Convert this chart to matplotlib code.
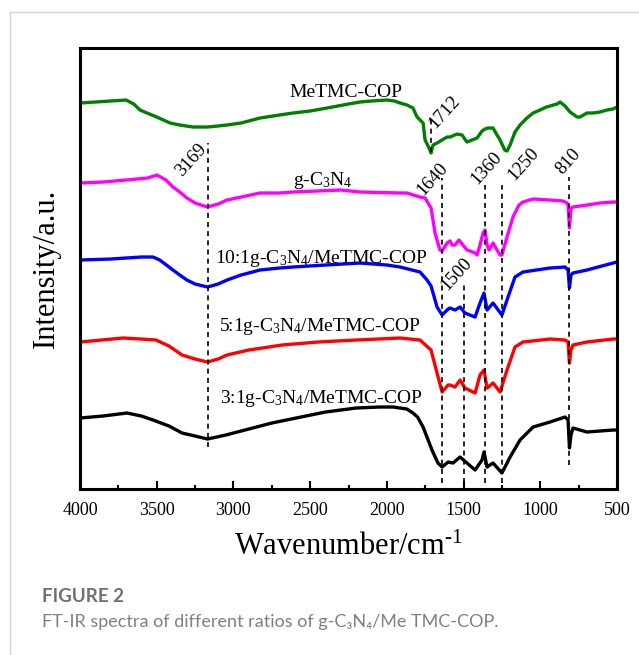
import numpy as np
import matplotlib
matplotlib.use('Agg')
import matplotlib.pyplot as plt
from matplotlib.lines import Line2D
from matplotlib.ticker import MultipleLocator

plt.rcParams['font.family'] = ['Liberation Serif', 'DejaVu Serif']
plt.rcParams['mathtext.fontset'] = 'custom'
plt.rcParams['mathtext.rm'] = 'Liberation Serif'
plt.rcParams['mathtext.it'] = 'Liberation Serif:italic'

# spectra (wavenumber in cm-1, intensity in a.u. incl. offset)
wn_cop = [4000, 3900, 3800, 3700, 3650, 3609, 3563, 3500, 3413, 3350, 3263, 3169, 3100,
          3042, 2950, 2827, 2700, 2612, 2500, 2390, 2250, 2175, 2100, 2000, 1950,
          1914, 1869, 1830, 1803, 1764, 1751, 1725, 1712, 1699, 1673, 1608, 1588, 1543,
          1510, 1478, 1445, 1412, 1380, 1360, 1341, 1308, 1282, 1262, 1232, 1217, 1197,
          1165, 1132, 1087, 1047, 1002, 960, 891, 871, 839, 806, 760, 741, 696, 656,
          611, 565, 526, 500]
i_cop = [386, 387, 388, 389, 385, 379, 376, 372, 366, 364, 362, 362, 363,
         364, 366, 371, 374, 376, 378, 381, 385, 387, 388, 389, 388,
         386, 384, 381, 372, 366, 349, 341, 336, 344, 346, 352, 352, 355,
         354, 347, 349, 351, 358, 360, 361, 361, 354, 349, 339, 338, 344,
         357, 364, 371, 376, 379, 382, 385, 387, 383, 377, 372, 372, 376, 376,
         377, 379, 380, 382]

wn_gcn = [4000, 3850, 3700, 3560, 3498, 3440, 3394, 3350, 3303, 3250, 3230, 3169, 3100,
          3042, 2950, 2827, 2700, 2612, 2300, 2175, 1914, 1869, 1784, 1751, 1712, 1686,
          1654, 1640, 1608, 1588, 1575, 1556, 1530, 1510, 1478, 1458, 1425, 1412, 1393,
          1373, 1360, 1347, 1334, 1308, 1282, 1262, 1250, 1217, 1178, 1139, 1113, 1047,
          937, 852, 826, 819, 810, 800, 787, 696, 611, 526, 500]
i_gcn = [306, 307, 309, 311, 314, 309, 302, 297, 291, 286, 285, 282, 285,
         289, 292, 296, 296, 297, 299, 297, 296, 296, 292, 291, 281, 256,
         239, 238, 246, 248, 244, 244, 249, 245, 239, 238, 236, 234, 244,
         256, 259, 244, 239, 246, 239, 234, 234, 252, 272, 284, 287, 290,
         289, 288, 286, 284, 261, 281, 282, 284, 286, 287, 287]

wn_10 = [4000, 3800, 3600, 3524, 3480, 3394, 3350, 3303, 3250, 3169, 3100, 3042, 2950,
         2827, 2700, 2612, 2400, 2175, 2000, 1914, 1784, 1738, 1712, 1673, 1640, 1601,
         1588, 1556, 1523, 1491, 1458, 1425, 1393, 1367, 1347, 1308, 1250, 1217, 1165,
         1113, 937, 839, 819, 810, 800, 787, 696, 526, 500]
i_10 = [229, 230, 232, 232, 229, 219, 214, 209, 205, 202, 205, 209, 214,
        219, 221, 222, 224, 226, 224, 222, 217, 209, 203, 182, 174, 180,
        181, 179, 182, 176, 174, 172, 186, 196, 179, 186, 174, 189, 212,
        217, 221, 222, 219, 201, 214, 216, 219, 226, 227]

wn_5 = [4000, 3720, 3600, 3505, 3420, 3335, 3250, 3169, 3100, 3042, 2900, 2683, 2450,
        2201, 1914, 1784, 1712, 1673, 1640, 1601, 1588, 1556, 1523, 1491, 1425, 1393,
        1367, 1347, 1308, 1262, 1217, 1165, 1113, 937, 839, 819, 810, 800, 787, 696,
        526, 500]
i_5 = [147, 151, 150, 149, 143, 134, 130, 127, 130, 134, 139, 144, 147,
       149, 151, 149, 139, 116, 97, 104, 104, 102, 109, 101, 96, 114,
       119, 101, 106, 97, 119, 142, 147, 150, 149, 147, 126, 139, 144, 147,
       150, 150]

wn_3 = [4000, 3850, 3694, 3600, 3524, 3420, 3335, 3250, 3169, 3050, 2925, 2750, 2560,
        2400, 2201, 2050, 1960, 1914, 1870, 1830, 1800, 1764, 1706, 1667, 1640, 1601,
        1569, 1523, 1478, 1425, 1380, 1367, 1347, 1308, 1250, 1197, 1132, 1047, 937,
        839, 819, 810, 800, 787, 696, 526, 500]
i_3 = [71, 73, 76, 73, 69, 63, 56, 53, 50, 54, 59, 66, 72,
       77, 81, 82, 82, 81, 80, 76, 72, 62, 39, 26, 22, 27,
       26, 32, 26, 19, 29, 37, 22, 26, 16, 32, 49, 62, 67,
       72, 69, 41, 54, 61, 57, 59, 59]

series = [(wn_cop, i_cop, 'green'), (wn_gcn, i_gcn, '#ff00ff'), (wn_10, i_10, '#0000ff'),
          (wn_5, i_5, '#ff0000'), (wn_3, i_3, 'black')]

labels = ['MeTMC-COP', 'g-C$_3$N$_4$', '10:1g-C$_3$N$_4$/MeTMC-COP',
          '5:1g-C$_3$N$_4$/MeTMC-COP', '3:1g-C$_3$N$_4$/MeTMC-COP']
label_x = [2270, 2420, 2430, 2440, 2430]
label_y = [397, 309, 231, 163, 91]

# marked peaks: position, dashed line extent, label position
peaks = [3169, 1712, 1640, 1500, 1360, 1250, 810]
peak_top = [346, 371, 311, 207, 304, 304, 312]
peak_bot = [42, 337, 6, 6, 6, 6, 24]
peak_lx = [3278, 1621, 1699, 1546, 1347, 1106, 819]
peak_ly = [329, 377, 310, 215, 321, 325, 327]

fig = plt.figure(figsize=(6.39, 6.55), dpi=100)
ax = fig.add_axes([0.1252, 0.2534, 0.8404, 0.6733])

for wn, inten, c in series:
    ax.plot(wn, inten, color=c, linewidth=2.4)

for p, t, b, lx, ly in zip(peaks, peak_top, peak_bot, peak_lx, peak_ly):
    ax.plot([p, p], [b, t], color='black', linestyle=(0, (3, 2.5)), linewidth=1.2)
    ax.text(lx, ly, str(p), rotation=48, ha='center', va='center', fontsize=13.5)

for s, lx, ly in zip(labels, label_x, label_y):
    ax.text(lx, ly, s, ha='center', va='center', fontsize=14)

ax.set_xlim(4000, 500)
ax.set_ylim(0, 441)
ax.xaxis.set_major_locator(MultipleLocator(500))
ax.xaxis.set_minor_locator(MultipleLocator(250))
ax.tick_params(axis='x', which='major', direction='in', length=6, width=1.5,
               labelsize=13, pad=9, top=False)
ax.tick_params(axis='x', which='minor', direction='in', length=3, width=1.5, top=False)
ax.set_yticks([])
for sp in ax.spines.values():
    sp.set_linewidth(2.2)

ax.set_xlabel('Wavenumber/cm$^{\\text{-1}}$', fontsize=22, labelpad=10)
ax.set_ylabel('Intensity/a.u.', fontsize=22, labelpad=14)

# card frame and caption
fig.add_artist(Line2D([9.5 / 639, 9.5 / 639], [0, 1 - 12 / 655], transform=fig.transFigure,
                      color='#d4d4d4', linewidth=1))
fig.add_artist(Line2D([9.5 / 639, 1], [1 - 12 / 655, 1 - 12 / 655], transform=fig.transFigure,
                      color='#d4d4d4', linewidth=1))
fig.text(42 / 639, 1 - 597 / 655, 'FIGURE 2', family=['Lato', 'DejaVu Sans'],
         fontsize=13.5, fontweight='bold', color='#707070', va='center')
fig.text(42 / 639, 1 - 622 / 655, 'FT-IR spectra of different ratios of g-C₃N₄/Me TMC-COP.',
         family=['Lato', 'DejaVu Sans'], fontsize=13, color='#808080', va='center')

fig.savefig('out.png', dpi=100)
